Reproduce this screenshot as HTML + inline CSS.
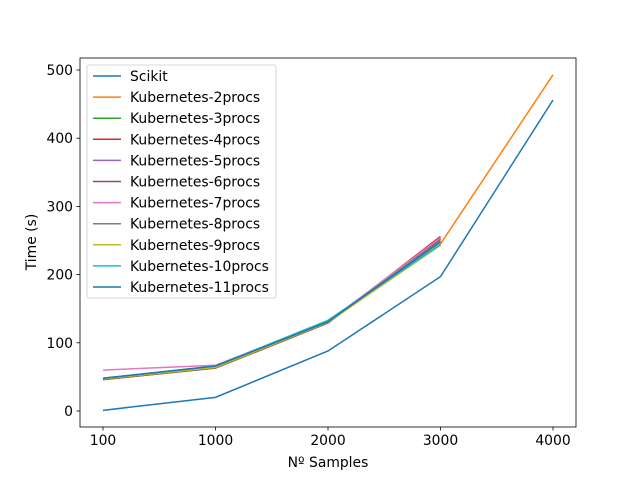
<!DOCTYPE html>
<html><head><meta charset="utf-8"><style>
body{margin:0;background:#fff;}
svg{display:block;font-family:"DejaVu Sans","Liberation Sans",sans-serif;}
</style></head><body>
<svg id="chart" width="640" height="480"></svg>
<script>
const categories=[100,1000,2000,3000,4000];
const seriesNames=["Scikit","Kubernetes-2procs","Kubernetes-3procs","Kubernetes-4procs","Kubernetes-5procs","Kubernetes-6procs","Kubernetes-7procs","Kubernetes-8procs","Kubernetes-9procs","Kubernetes-10procs","Kubernetes-11procs"];
const scikit=[1,20,88,197,456];
const k2=[47,64,130,245,493];
const k3=[47,64,130,250];
const k4=[46,63,129,256];
const k5=[47,64,130,253];
const k6=[46,63,129,252];
const k7=[60,67,131,254];
const k8=[48,65,131,250];
const k9=[47,64,130,243];
const k10=[48,66,133,244];
const k11=[48,66,131,248];
const seriesValues=[scikit,k2,k3,k4,k5,k6,k7,k8,k9,k10,k11];
const yTicks=[0,100,200,300,400,500];
const colors=["#1f77b4","#ff7f0e","#2ca02c","#d62728","#9467bd","#8c564b","#e377c2","#7f7f7f","#bcbd22","#17becf","#1f77b4"];
const NS="http://www.w3.org/2000/svg";
const svg=document.getElementById('chart');
function mk(t,a,p){const e=document.createElementNS(NS,t);for(const k in a)e.setAttribute(k,a[k]);(p||svg).appendChild(e);return e;}
const L=80,R=576,T=58,B=427,FS=13.9;
function xs(i){return 103+i*(553-103)/4;}
function ys(v){return 411-v*(411-70)/500;}
seriesValues.forEach((s,si)=>{
  const pts=s.map((v,i)=>xs(i)+','+ys(v)).join(' ');
  const pl=mk('polyline',{points:pts,fill:'none',stroke:colors[si],'stroke-width':1.5});
  
  
});
const fr=mk('rect',{x:L,y:T,width:R-L,height:B-T,fill:'none',stroke:'#000','stroke-width':0.8});


categories.forEach((c,i)=>{
  mk('line',{x1:xs(i),x2:xs(i),y1:B,y2:B+3.5,stroke:'#000','stroke-width':0.8});
  const t=mk('text',{x:xs(i),y:B+18,'font-size':FS,'text-anchor':'middle'});t.textContent=c;
  
  
});
yTicks.forEach(v=>{
  mk('line',{x1:L-3.5,x2:L,y1:ys(v),y2:ys(v),stroke:'#000','stroke-width':0.8});
  const t=mk('text',{x:L-7,y:ys(v)+5,'font-size':FS,'text-anchor':'end'});t.textContent=v;
  
  
});
const xt=mk('text',{x:328,y:467,'font-size':FS,'text-anchor':'middle'});xt.textContent='Nº Samples';


const yt=mk('text',{x:0,y:0,'font-size':FS,'text-anchor':'middle',transform:'translate(36,242) rotate(-90)'});yt.textContent='Time (s)';


const lg=mk('g',{});


mk('rect',{x:87,y:65,width:189,height:233,rx:2,fill:'#fff','fill-opacity':0.8,stroke:'#ccc','stroke-width':0.8},lg);
seriesNames.forEach((n,i)=>{
  const y=76+i*21.1;
  const g=mk('g',{},lg);
  
  
  mk('line',{x1:93,x2:121,y1:y,y2:y,stroke:colors[i],'stroke-width':1.5},g);
  const t=mk('text',{x:130,y:y+5,'font-size':FS},g);t.textContent=n;
});
</script>
</body></html>
